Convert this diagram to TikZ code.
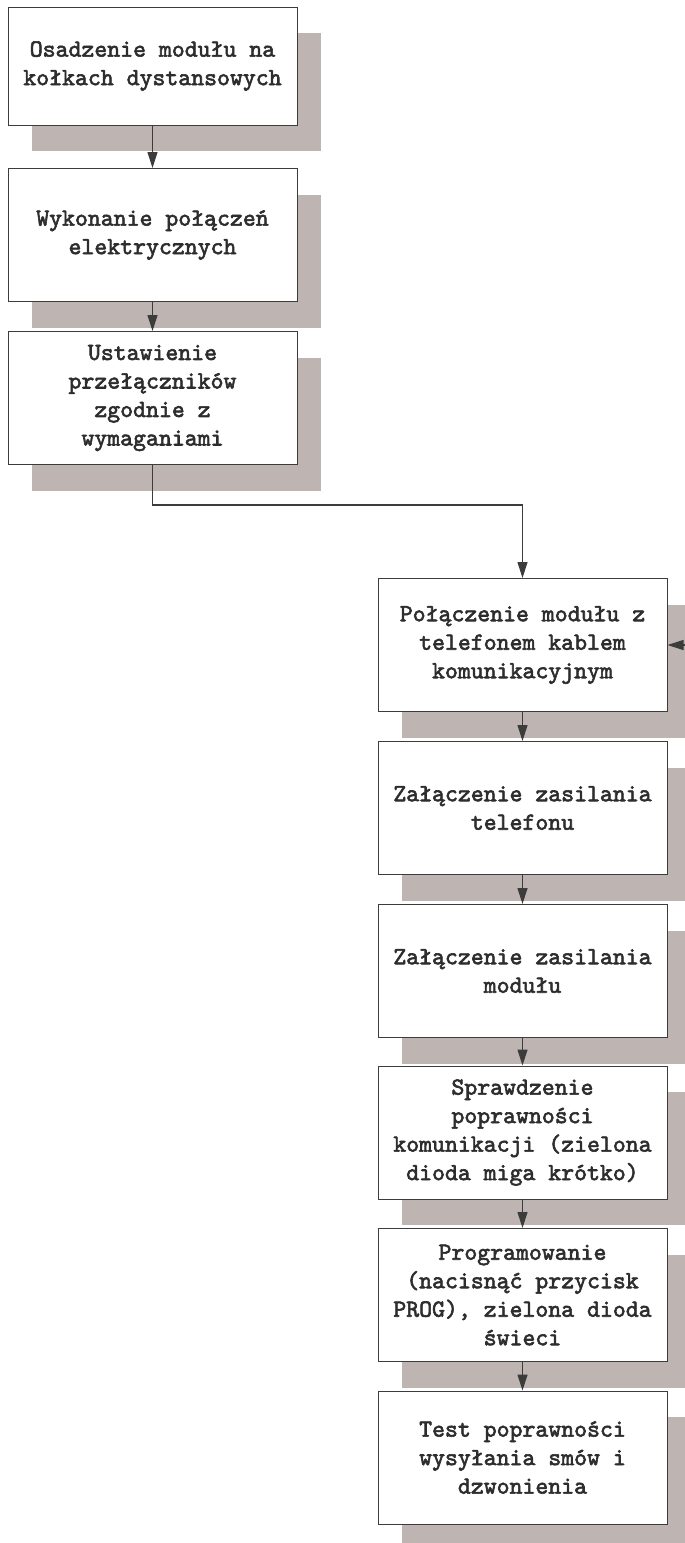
\documentclass[tikz,border=0pt]{standalone}
\usepackage{fontspec}
\newfontfamily\boxfont{lmmono10-regular}[Extension=.otf, FakeBold=2.4]
\usetikzlibrary{shadows,arrows.meta}
\definecolor{shadowc}{RGB}{190,180,177}
\definecolor{linec}{RGB}{60,60,60}
\definecolor{textc}{RGB}{45,45,45}
\begin{document}
\begin{tikzpicture}[x=1pt,y=-1pt,
  stepbox/.style={draw=linec, line width=1pt, fill=white, minimum width=289pt, minimum height=133pt,
    align=center, inner sep=0pt, text=textc,
    font=\boxfont\fontsize{24.6}{28.5}\selectfont,
    general shadow={fill=shadowc, shadow xshift=24pt, shadow yshift=-26pt}},
  arr/.style={draw=linec, line width=1.1pt, -{Triangle[length=16pt,width=10pt]}}]
\useasboundingbox (0,0) rectangle (685,1543);
\node[stepbox, minimum height=118pt] (b1) at (152.5,66) {Osadzenie modułu na\\kołkach dystansowych};
\node[stepbox] (b2) at (152.5,235) {Wykonanie połączeń\\elektrycznych};
\node[stepbox] (b3) at (152.5,398) {Ustawienie\\przełączników\\zgodnie z\\wymaganiami};
\node[stepbox] (b4) at (522.5,645) {Połączenie modułu z\\telefonem kablem\\komunikacyjnym};
\node[stepbox] (b5) at (522.5,808) {Załączenie zasilania\\telefonu};
\node[stepbox] (b6) at (522.5,971) {Załączenie zasilania\\modułu};
\node[stepbox] (b7) at (522.5,1132.5) {Sprawdzenie\\poprawności\\komunikacji (zielona\\dioda miga krótko)};
\node[stepbox] (b8) at (522.5,1295) {Programowanie\\(nacisnąć przycisk\\PROG), zielona dioda\\świeci};
\node[stepbox] (b9) at (522.5,1457.5) {Test poprawności\\wysyłania smów i\\dzwonienia};
\coordinate (rin) at (690,645);
\draw[arr] (b1) -- (b2);
\draw[arr] (b2) -- (b3);
\draw[arr] (b3.south) -- ++(0,40) -| (b4.north);
\draw[arr] (rin) -- (b4.east);
\draw[arr] (b4) -- (b5);
\draw[arr] (b5) -- (b6);
\draw[arr] (b6) -- (b7);
\draw[arr] (b7) -- (b8);
\draw[arr] (b8) -- (b9);
\end{tikzpicture}
\end{document}
